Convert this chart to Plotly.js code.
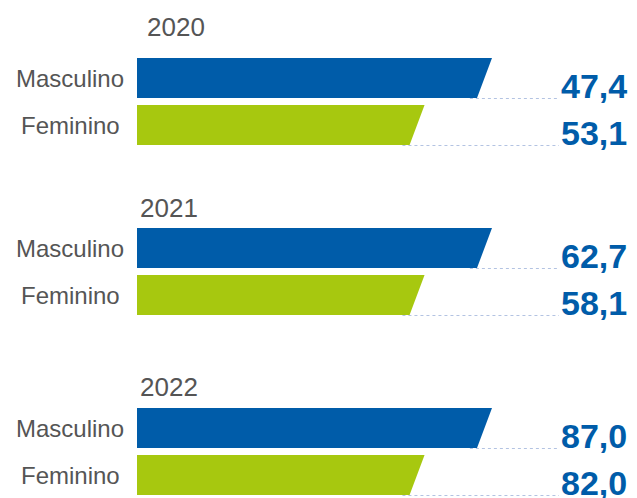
<!DOCTYPE html>
<html>
<head>
<meta charset="utf-8">
<script src="https://cdn.plot.ly/plotly-3.0.1.min.js"></script>
<style>html,body{margin:0;padding:0;background:#fff;}#chart{width:637px;height:498px;}</style>
</head>
<body>
<div id="chart"></div>
<script>
// ---- data ----
const years = ['2020', '2021', '2022'];
const genders = ['Masculino', 'Feminino'];
const masculino = [47.4, 62.7, 87.0];
const feminino = [53.1, 58.1, 82.0];
// decorative bar lengths as drawn in the picture (relative units, not proportional to values)
const masculinoBarLength = [100, 100, 100];
const femininoBarLength = [81, 81, 81];

// ---- layout constants ----
const W = 637, H = 498;
const pxPerUnit = 3.55;      // horizontal scale
const x0px = 137;            // bar start pixel
const groupTop = [58, 228, 408];
const yearY = [26.5, 207.5, 386.5];
const yearX = [145, 138, 138];
const barH = 40, rowStep = 47;
const slant = 15 / pxPerUnit;
const dotEndPx = 559;
const colors = {Masculino: '#005CA9', Feminino: '#A7C80F'};

const xRange = [-x0px / pxPerUnit, (W - x0px) / pxPerUnit];
const traces = [];
const annotations = [];

const fmt = v => v.toFixed(1).replace('.', ',');

years.forEach((yr, g) => {
  annotations.push({
    xref: 'paper', yref: 'y', x: yearX[g] / W, y: yearY[g],
    xanchor: 'left', yanchor: 'middle', showarrow: false,
    text: yr, font: {family: 'Liberation Sans', size: 26, color: '#555555'}
  });
  genders.forEach((gd, r) => {
    const L = gd === 'Masculino' ? masculinoBarLength[g] : femininoBarLength[g];
    const v = gd === 'Masculino' ? masculino[g] : feminino[g];
    const top = groupTop[g] + r * rowStep;
    const bot = top + barH;
    traces.push({
      type: 'scatter', mode: 'lines', fill: 'toself',
      x: [0, L, L - slant, 0, 0], y: [top, top, bot, bot, top],
      fillcolor: colors[gd], line: {width: 0, color: colors[gd]},
      hoverinfo: 'skip', showlegend: false
    });
    traces.push({
      type: 'scatter', mode: 'lines',
      x: [L - slant - 2, (dotEndPx - x0px) / pxPerUnit], y: [bot + 0.5, bot + 0.5],
      line: {width: 1, color: '#b3c3e2', dash: 'dot'},
      hoverinfo: 'skip', showlegend: false
    });
    annotations.push({
      xref: 'paper', yref: 'y', x: 70 / W, y: top + barH / 2,
      xanchor: 'center', yanchor: 'middle', showarrow: false,
      text: gd, font: {family: 'Liberation Sans', size: 24, color: '#555555'}
    });
    annotations.push({
      xref: 'paper', yref: 'y', x: 629 / W, y: bot - 12.5,
      xanchor: 'right', yanchor: 'middle', showarrow: false,
      text: '<b>' + fmt(v) + '</b>',
      font: {family: 'Liberation Sans', size: 34, color: '#005CA9'}
    });
  });
});

const layout = {
  width: W, height: H,
  margin: {l: 0, r: 0, t: 0, b: 0},
  paper_bgcolor: '#ffffff', plot_bgcolor: '#ffffff',
  xaxis: {range: xRange, visible: false, fixedrange: true},
  yaxis: {range: [H, 0], visible: false, fixedrange: true},
  showlegend: false,
  annotations: annotations
};

Plotly.newPlot('chart', traces, layout, {staticPlot: true, displayModeBar: false});
</script>
</body>
</html>
